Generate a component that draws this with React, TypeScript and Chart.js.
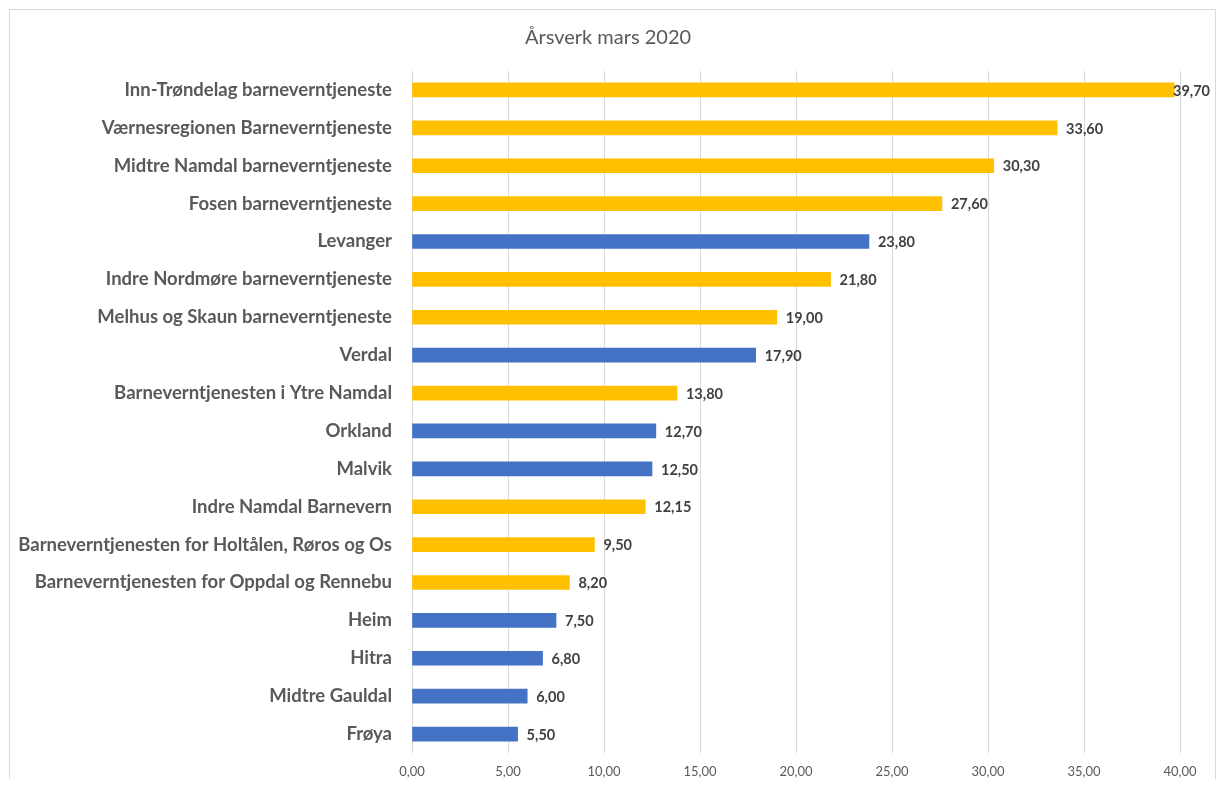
import React, { useEffect, useRef } from "react";
import { Chart, registerables } from "chart.js";

Chart.register(...registerables);

const chartTitle = "Årsverk mars 2020";

const categories = [
  "Inn-Trøndelag barneverntjeneste",
  "Værnesregionen Barneverntjeneste",
  "Midtre Namdal barneverntjeneste",
  "Fosen barneverntjeneste",
  "Levanger",
  "Indre Nordmøre barneverntjeneste",
  "Melhus og Skaun barneverntjeneste",
  "Verdal",
  "Barneverntjenesten i Ytre Namdal",
  "Orkland",
  "Malvik",
  "Indre Namdal Barnevern",
  "Barneverntjenesten for Holtålen, Røros og Os",
  "Barneverntjenesten for Oppdal og Rennebu",
  "Heim",
  "Hitra",
  "Midtre Gauldal",
  "Frøya",
];

const values = [
  39.7, 33.6, 30.3, 27.6, 23.8, 21.8, 19.0, 17.9, 13.8, 12.7, 12.5, 12.15, 9.5,
  8.2, 7.5, 6.8, 6.0, 5.5,
];

// true = interkommunal tjeneste, false = enkeltkommune
const interMunicipal = [
  true, true, true, true, false, true, true, false, true, false, false, true,
  true, true, false, false, false, false,
];

const xMin = 0;
const xMax = 40;
const xStep = 5;

const YELLOW = "#FFC000";
const BLUE = "#4472C4";
const FONT = "Lato, 'Open Sans', sans-serif";

const fmt = (v: number) => v.toFixed(2).replace(".", ",");

const valueLabels = {
  id: "valueLabels",
  afterDatasetsDraw(chart: any) {
    const ctx = chart.ctx;
    const meta = chart.getDatasetMeta(0);
    ctx.save();
    ctx.font = `bold 14.5px ${FONT}`;
    ctx.fillStyle = "#404040";
    ctx.textBaseline = "middle";
    ctx.textAlign = "left";
    meta.data.forEach((el: any, i: number) => {
      const txt = fmt(values[i]);
      const w = ctx.measureText(txt).width;
      const x = Math.min(el.x + 9, chart.width - 5 - w);
      ctx.fillText(txt, x, el.y + 1);
    });
    ctx.restore();
  },
};

const titlePlugin = {
  id: "centeredTitle",
  afterDraw(chart: any) {
    const ctx = chart.ctx;
    ctx.save();
    ctx.font = `normal 20px ${FONT}`;
    ctx.fillStyle = "#595959";
    ctx.textAlign = "center";
    ctx.textBaseline = "middle";
    ctx.fillText(chartTitle, 598, 28);
    ctx.restore();
  },
};

export default function App() {
  const ref = useRef<HTMLCanvasElement>(null);
  useEffect(() => {
    if (!ref.current) return;
    const chart = new Chart(ref.current, {
      type: "bar",
      data: {
        labels: categories,
        datasets: [
          {
            data: values,
            backgroundColor: interMunicipal.map((b) => (b ? YELLOW : BLUE)),
            barThickness: 14,
          },
        ],
      },
      options: {
        indexAxis: "y",
        responsive: false,
        animation: false,
        layout: { padding: { left: 0, right: 35, top: 61, bottom: 0 } },
        plugins: {
          legend: { display: false },
          tooltip: { enabled: false },
          title: { display: false },
        },
        scales: {
          x: {
            min: xMin,
            max: xMax,
            ticks: {
              stepSize: xStep,
              callback: (v: any) => fmt(Number(v)),
              color: "#595959",
              font: { family: FONT, size: 13 },
              padding: 11,
              maxRotation: 0,
            },
            grid: { color: "#d9d9d9", drawTicks: false, lineWidth: 1 },
            border: { display: false },
            afterFit: (s: any) => {
              s.height = 47;
            },
          },
          y: {
            ticks: {
              color: "#595959",
              font: { family: FONT, size: 18.5, weight: "bold" },
              padding: 20,
              autoSkip: false,
            },
            grid: { display: false, drawTicks: false },
            border: { display: false },
            afterFit: (s: any) => {
              s.width = 402;
            },
          },
        },
      },
      plugins: [valueLabels, titlePlugin],
    });
    return () => chart.destroy();
  }, []);

  return (
    <div style={{ height: 771, overflow: "hidden" }}>
      <div
        style={{
          marginLeft: 1,
          marginTop: 1,
          width: 1205,
          height: 800,
          border: "1px solid #d9d9d9",
          background: "#fff",
        }}
      >
        <canvas ref={ref} width={1205} height={790} style={{ display: "block" }} />
      </div>
    </div>
  );
}
